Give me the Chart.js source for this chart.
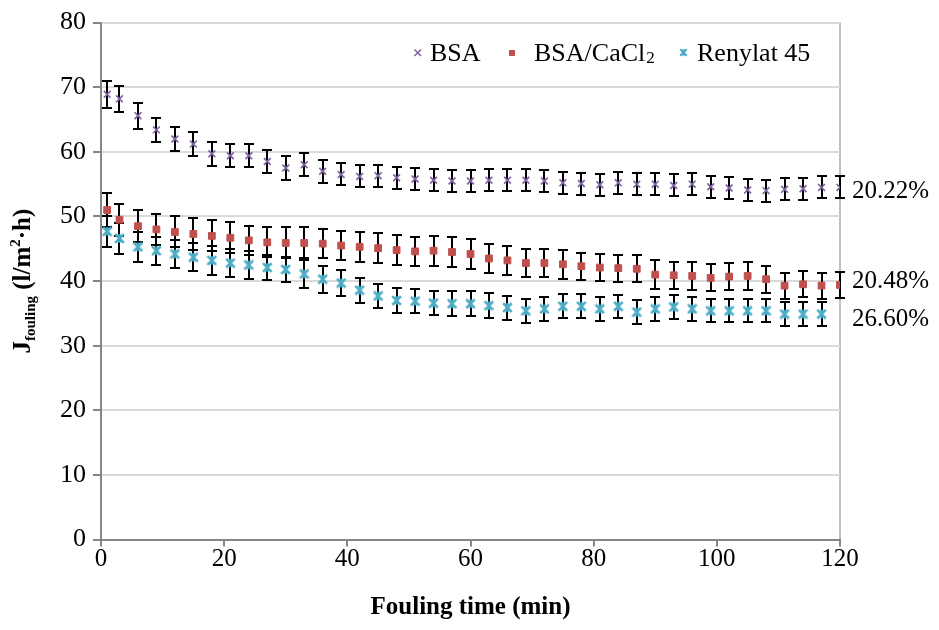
<!DOCTYPE html>
<html>
<head>
<meta charset="utf-8">
<script src="https://cdn.jsdelivr.net/npm/chart.js@4/dist/chart.umd.min.js"></script>
<style>
  html, body { margin: 0; padding: 0; background: #ffffff; }
  canvas { display: block; }
</style>
</head>
<body>
<canvas id="c" width="939" height="630"></canvas>
<script>
// ---------- data ----------
const times = [1, 3, 6, 9, 12, 15, 18, 21, 24, 27, 30, 33, 36, 39, 42, 45, 48, 51, 54, 57, 60,
               63, 66, 69, 72, 75, 78, 81, 84, 87, 90, 93, 96, 99, 102, 105, 108, 111, 114, 117, 120];

const bsa = [68.9, 68.2, 65.6, 63.4, 62.0, 61.2, 59.7, 59.4, 59.4, 58.5, 57.5, 58.0, 57.0, 56.5, 56.2,
             56.3, 56.0, 55.8, 55.6, 55.5, 55.5, 55.6, 55.6, 55.6, 55.5, 55.2, 55.1, 54.9, 55.2, 55.0,
             55.0, 54.8, 55.0, 54.6, 54.4, 54.1, 54.0, 54.2, 54.3, 54.5, 54.5];
const bsaErr = [2.1, 2.0, 2.0, 1.9, 1.9, 1.85, 1.85, 1.8, 1.8, 1.8, 1.8, 1.8, 1.75, 1.7, 1.7,
                1.7, 1.7, 1.7, 1.7, 1.7, 1.7, 1.7, 1.7, 1.7, 1.7, 1.7, 1.7, 1.7, 1.7, 1.7,
                1.7, 1.7, 1.7, 1.7, 1.7, 1.7, 1.7, 1.7, 1.7, 1.7, 1.7];

const bsaCa = [51.0, 49.5, 48.5, 48.0, 47.6, 47.3, 47.0, 46.7, 46.3, 46.0, 45.9, 45.9, 45.8, 45.5, 45.3,
               45.1, 44.8, 44.6, 44.7, 44.5, 44.2, 43.5, 43.2, 42.8, 42.8, 42.6, 42.3, 42.1, 42.0, 41.9,
               41.0, 40.9, 40.8, 40.5, 40.7, 40.8, 40.3, 39.3, 39.5, 39.3, 39.4];
const bsaCaErr = [2.6, 2.5, 2.5, 2.4, 2.4, 2.45, 2.4, 2.4, 2.3, 2.3, 2.4, 2.4, 2.3, 2.3, 2.3,
                  2.3, 2.3, 2.3, 2.3, 2.3, 2.3, 2.3, 2.2, 2.2, 2.2, 2.2, 2.1, 2.1, 2.1, 2.1,
                  2.2, 2.1, 2.1, 2.1, 2.1, 2.1, 2.1, 2.0, 2.0, 2.0, 2.0];

const renylat = [47.7, 46.6, 45.3, 44.7, 44.2, 43.7, 43.2, 42.8, 42.5, 42.1, 41.8, 41.1, 40.3, 39.7, 38.6,
                 37.7, 37.0, 36.9, 36.6, 36.5, 36.5, 36.2, 35.9, 35.4, 35.7, 36.1, 36.1, 35.7, 36.1, 35.2,
                 35.7, 36.0, 35.7, 35.4, 35.4, 35.4, 35.4, 34.9, 34.9, 34.9];
const renylatErr = [2.4, 2.4, 2.3, 2.2, 2.2, 2.2, 2.2, 2.1, 2.1, 2.0, 2.0, 2.1, 2.1, 2.0, 1.95,
                    1.9, 1.9, 1.9, 1.9, 1.9, 1.9, 1.9, 1.85, 1.85, 1.85, 1.85, 1.85, 1.85, 1.8, 1.8,
                    1.8, 1.8, 1.8, 1.8, 1.8, 1.8, 1.8, 1.8, 1.8, 1.8];

const seriesLabels = ['BSA', 'BSA/CaCl₂', 'Renylat 45'];

const annotationLabels = ['20.22%', '20.48%', '26.60%'];
const annotationValues = [54.23, 40.27, 34.33];

const xTitle = 'Fouling time (min)';

// ---------- styling helpers ----------
const FONT = '"Liberation Serif", "Times New Roman", serif';
const PURPLE = '#8064A2', RED = '#C0504D', CYAN = '#4BACC6';

function starMarker(size, lw) {
  const c = document.createElement('canvas');
  c.width = size; c.height = size;
  const g = c.getContext('2d');
  const m = size / 2, r = size / 2 - 1.2;
  g.strokeStyle = CYAN; g.lineWidth = lw; g.lineCap = 'butt';
  g.beginPath();
  g.moveTo(m - r, m - r); g.lineTo(m + r, m + r);
  g.moveTo(m + r, m - r); g.lineTo(m - r, m + r);
  g.moveTo(m, m - r); g.lineTo(m, m + r);
  g.stroke();
  return c;
}
const cyanStar = starMarker(11, 2.6);
const cyanStarSmall = starMarker(9, 2.0);

function pts(xs, ys) { return ys.map((v, i) => ({ x: xs[i], y: v })); }

// rich text: '₂' drawn as small lowered 2
function drawRich(ctx, text, x, y, size, weight) {
  const parts = text.split('₂');
  let cx = x;
  parts.forEach((p, i) => {
    ctx.font = `${weight || ''} ${size}px ${FONT}`;
    ctx.fillText(p, cx, y);
    cx += ctx.measureText(p).width;
    if (i < parts.length - 1) {
      ctx.font = `${weight || ''} ${Math.round(size * 0.65)}px ${FONT}`;
      ctx.fillText('2', cx + 1, y + 2);
      cx += ctx.measureText('2').width + 1;
    }
  });
}

// ---------- plugins ----------
const errorBars = {
  id: 'errorBars',
  beforeDatasetsDraw(chart) {
    const { ctx, scales: { x, y } } = chart;
    ctx.save();
    ctx.strokeStyle = '#000';
    ctx.lineWidth = 2;
    chart.data.datasets.forEach(ds => {
      ds.data.forEach((p, j) => {
        const e = ds.errors[j];
        const px = Math.round(x.getPixelForValue(p.x));
        const t = Math.round(y.getPixelForValue(p.y + e));
        const b = Math.round(y.getPixelForValue(p.y - e));
        ctx.beginPath();
        ctx.moveTo(px, t); ctx.lineTo(px, b);
        ctx.moveTo(px - 5, t); ctx.lineTo(px + 5, t);
        ctx.moveTo(px - 5, b); ctx.lineTo(px + 5, b);
        ctx.stroke();
      });
    });
    ctx.restore();
  }
};

const extras = {
  id: 'extras',
  afterDraw(chart) {
    const { ctx, chartArea, scales: { y } } = chart;
    ctx.save();
    ctx.fillStyle = '#000';
    ctx.textBaseline = 'alphabetic';
    ctx.textAlign = 'left';

    // legend (inside plot, top right)
    const legendY = 52.5, base = 61;
    ctx.strokeStyle = PURPLE; ctx.lineWidth = 1.6;
    ctx.beginPath();
    ctx.moveTo(414.5, 49.5); ctx.lineTo(421, 56);
    ctx.moveTo(421, 49.5); ctx.lineTo(414.5, 56);
    ctx.stroke();
    drawRich(ctx, chart.data.datasets[0].label, 430, base, 26);
    ctx.fillStyle = RED;
    ctx.fillRect(509, legendY - 2.5, 6, 6);
    ctx.fillStyle = '#000';
    drawRich(ctx, chart.data.datasets[1].label, 534, base, 26);
    ctx.drawImage(cyanStarSmall, 683.5 - 4.5, legendY - 4.5);
    drawRich(ctx, chart.data.datasets[2].label, 697, base, 26);

    // right-side percentage labels
    ctx.font = `25px ${FONT}`;
    annotationLabels.forEach((lab, i) => {
      const py = y.getPixelForValue(annotationValues[i]);
      ctx.fillText(lab, chartArea.right + 12, py + 8.5);
    });

    // y-axis title with subscript / superscript
    const cy = (chartArea.top + chartArea.bottom) / 2;
    const parts = [
      { t: 'J', s: 25, dy: 0 },
      { t: 'fouling', s: 15, dy: 5 },
      { t: ' (l/m', s: 25, dy: 0 },
      { t: '2', s: 15, dy: -10 },
      { t: '·h)', s: 25, dy: 0 }
    ];
    let total = 0;
    parts.forEach(p => { ctx.font = `bold ${p.s}px ${FONT}`; p.w = ctx.measureText(p.t).width; total += p.w; });
    ctx.translate(30, cy);
    ctx.rotate(-Math.PI / 2);
    let lx = -total / 2;
    parts.forEach(p => {
      ctx.font = `bold ${p.s}px ${FONT}`;
      ctx.fillText(p.t, lx, p.dy);
      lx += p.w;
    });
    ctx.restore();
  }
};

// ---------- chart ----------
new Chart(document.getElementById('c'), {
  type: 'scatter',
  data: {
    datasets: [
      {
        label: seriesLabels[0], data: pts(times, bsa), errors: bsaErr,
        pointStyle: 'crossRot', pointRadius: 4.8, pointHoverRadius: 4.8,
        borderColor: PURPLE, backgroundColor: PURPLE, pointBorderWidth: 1.7, showLine: false
      },
      {
        label: seriesLabels[1], data: pts(times, bsaCa), errors: bsaCaErr,
        pointStyle: 'rect', pointRadius: 4.8, pointHoverRadius: 4.8,
        borderColor: RED, backgroundColor: RED, pointBorderWidth: 1, showLine: false
      },
      {
        label: seriesLabels[2], data: pts(times, renylat), errors: renylatErr,
        pointStyle: cyanStar, pointRadius: 5.5,
        borderColor: CYAN, backgroundColor: CYAN, showLine: false
      }
    ]
  },
  options: {
    responsive: false,
    animation: false,
    devicePixelRatio: 1,
    layout: { padding: { top: 14, right: 99, left: 0, bottom: 0 } },
    plugins: { legend: { display: false }, tooltip: { enabled: false } },
    scales: {
      x: {
        type: 'linear', min: 0, max: 120,
        ticks: { stepSize: 20, color: '#000', font: { family: FONT, size: 25 }, padding: -2, maxRotation: 0 },
        grid: {
          drawOnChartArea: true, lineWidth: 2, tickLength: 7,
          color: c => c.tick && c.tick.value === 120 ? '#c0c0c0' : (c.tick && c.tick.value === 0 ? '#868686' : 'rgba(0,0,0,0)'),
          tickColor: '#868686'
        },
        border: { color: '#868686', width: 2 },
        title: { display: true, text: xTitle, color: '#000', font: { family: FONT, size: 25, weight: 'bold' }, padding: { top: 0, bottom: 7 } },
        afterFit: s => { s.height = 90.4; }
      },
      y: {
        min: 0, max: 80,
        ticks: { stepSize: 10, color: '#000', font: { family: FONT, size: 26 }, padding: 7 },
        grid: {
          lineWidth: 2, tickLength: 8,
          color: c => c.tick && c.tick.value === 0 ? '#868686' : '#d9d9d9',
          tickColor: '#868686'
        },
        border: { color: '#868686', width: 2 },
        afterFit: s => { s.width = 101; }
      }
    }
  },
  plugins: [errorBars, extras]
});
</script>
</body>
</html>
